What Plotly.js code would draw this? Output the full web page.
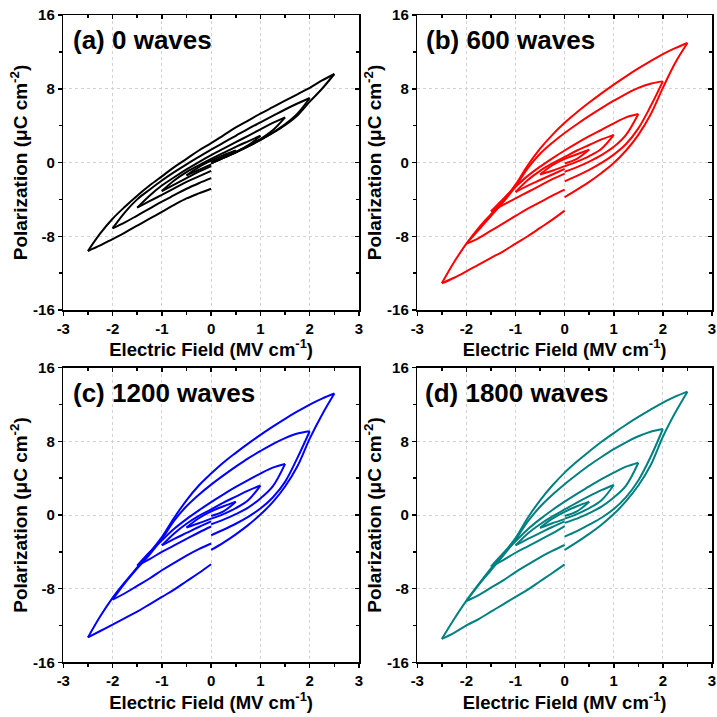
<!DOCTYPE html>
<html>
<head>
<meta charset="utf-8">
<script src="https://cdn.plot.ly/plotly-3.0.1.min.js"></script>
<style>
html, body { margin: 0; padding: 0; background: #ffffff; }
#chart { width: 717px; height: 717px; }
</style>
</head>
<body>
<div id="chart"></div>
<script>
// Triangular drive field for each amplitude (MV/cm): 0 -> +A -> -A -> 0
const E_05 = [0,0.25,0.5,0.25,0,-0.25,-0.5,-0.25,0];
const E_10 = [0,0.25,0.5,0.75,1,0.75,0.5,0.25,0,-0.25,-0.5,-0.75,-1,-0.75,-0.5,-0.25,0];
const E_15 = [0,0.25,0.5,0.75,1,1.25,1.5,1.25,1,0.75,0.5,0.25,0,-0.25,-0.5,-0.75,-1,-1.25,-1.5,-1.25,-1,-0.75,-0.5,-0.25,0];
const E_20 = [0,0.25,0.5,0.75,1,1.25,1.5,1.75,2,1.75,1.5,1.25,1,0.75,0.5,0.25,0,-0.25,-0.5,-0.75,-1,-1.25,-1.5,-1.75,-2,-1.75,-1.5,-1.25,-1,-0.75,-0.5,-0.25,0];
const E_25 = [0,0.25,0.5,0.75,1,1.25,1.5,1.75,2,2.25,2.5,2.25,2,1.75,1.5,1.25,1,0.75,0.5,0.25,0,-0.25,-0.5,-0.75,-1,-1.25,-1.5,-1.75,-2,-2.25,-2.5,-2.25,-2,-1.75,-1.5,-1.25,-1,-0.75,-0.5,-0.25,0];

// Polarization (uC/cm^2) along each drive path, (a) 0 waves
const P_a_05 = [0.0,0.6,1.3,0.8,0.2,-0.5,-1.4,-0.8,-0.2];
const P_a_10 = [0.0,0.55,1.15,1.85,2.9,2.3,1.7,1.05,0.4,-0.3,-1.05,-1.95,-3.1,-2.4,-1.7,-1.0,-0.4];
const P_a_15 = [-0.05,0.5,1.1,1.8,2.55,3.5,4.9,4.3,3.6,2.9,2.2,1.5,0.8,0.05,-0.75,-1.6,-2.5,-3.6,-4.9,-4.2,-3.5,-2.8,-2.1,-1.5,-0.9];
const P_a_20 = [-0.1,0.5,1.1,1.75,2.45,3.25,4.15,5.3,7.0,6.4,5.75,5.05,4.35,3.65,2.9,2.15,1.4,0.6,-0.2,-1.05,-1.95,-2.95,-4.0,-5.4,-7.15,-6.5,-5.75,-5.0,-4.25,-3.55,-2.85,-2.25,-1.7];
const P_a_25 = [-0.1,0.5,1.1,1.75,2.45,3.2,4.05,5.1,6.6,8.0,9.6,8.9,8.1,7.4,6.7,6.0,5.3,4.55,3.8,2.95,2.1,1.3,0.4,-0.5,-1.5,-2.5,-3.6,-4.8,-6.1,-7.7,-9.6,-9.0,-8.3,-7.6,-6.85,-6.1,-5.35,-4.6,-3.9,-3.35,-2.85];

// (b) 600 waves
const P_b_05 = [-0.1,0.4,1.4,0.9,0.4,-0.3,-1.3,-0.9,-0.4];
const P_b_10 = [-0.4,0.1,0.7,1.5,3.0,2.5,1.9,1.3,0.6,-0.1,-0.9,-1.9,-3.2,-2.5,-1.9,-1.3,-0.7];
const P_b_15 = [-1.0,-0.5,0.1,0.8,1.7,3.0,5.26,4.9,4.25,3.55,2.85,2.1,1.3,0.45,-0.45,-1.45,-2.65,-3.95,-5.3,-4.6,-3.9,-3.2,-2.5,-1.8,-1.2];
const P_b_20 = [-2.04,-1.45,-0.8,-0.05,0.85,2.0,3.7,6.1,8.8,8.55,8.1,7.45,6.7,5.9,5.05,4.15,3.2,2.15,0.95,-0.6,-2.6,-4.3,-5.8,-7.3,-8.8,-8.2,-7.4,-6.6,-5.8,-5.0,-4.3,-3.6,-2.95];
const P_b_25 = [-3.77,-2.95,-2.1,-1.13,-0.05,1.3,3.0,5.2,8.1,10.8,12.96,12.4,11.75,11.0,10.2,9.35,8.45,7.5,6.5,5.45,4.3,3.0,1.5,-0.3,-2.4,-4.1,-5.6,-7.1,-8.8,-10.8,-13.1,-12.5,-11.8,-11.07,-10.35,-9.63,-8.8,-8.0,-7.1,-6.2,-5.22];

// (c) 1200 waves
const P_c_05 = [-0.1,0.4,1.45,0.95,0.4,-0.35,-1.35,-0.9,-0.4];
const P_c_10 = [-0.4,0.1,0.75,1.6,3.2,2.65,2.0,1.35,0.6,-0.1,-0.95,-2.0,-3.3,-2.6,-1.95,-1.3,-0.7];
const P_c_15 = [-1.0,-0.5,0.1,0.8,1.8,3.1,5.55,5.15,4.5,3.8,3.05,2.25,1.4,0.5,-0.45,-1.5,-2.75,-4.05,-5.5,-4.8,-4.0,-3.3,-2.6,-1.9,-1.25];
const P_c_20 = [-2.2,-1.6,-0.95,-0.2,0.7,1.9,3.6,6.2,9.1,8.85,8.35,7.7,6.95,6.15,5.25,4.3,3.3,2.2,0.95,-0.6,-2.6,-4.3,-5.8,-7.4,-9.2,-8.5,-7.7,-6.9,-6.0,-5.2,-4.4,-3.7,-3.1];
const P_c_25 = [-3.8,-3.0,-2.1,-1.1,0.05,1.4,3.1,5.3,8.3,10.9,13.2,12.65,12.0,11.25,10.45,9.6,8.7,7.75,6.75,5.7,4.5,3.2,1.6,-0.3,-2.4,-4.1,-5.7,-7.3,-9.0,-11.0,-13.3,-12.6,-11.9,-11.2,-10.5,-9.7,-8.9,-8.1,-7.2,-6.3,-5.35];

// (d) 1800 waves
const P_d_05 = [-0.1,0.4,1.45,0.95,0.35,-0.4,-1.4,-0.9,-0.45];
const P_d_10 = [-0.4,0.1,0.75,1.6,3.26,2.7,2.05,1.35,0.6,-0.15,-1.0,-2.0,-3.3,-2.6,-1.95,-1.3,-0.7];
const P_d_15 = [-0.85,-0.4,0.2,0.9,1.9,3.2,5.68,5.25,4.6,3.9,3.1,2.3,1.45,0.55,-0.45,-1.55,-2.85,-4.15,-5.6,-4.9,-4.1,-3.4,-2.7,-2.0,-1.2];
const P_d_20 = [-2.35,-1.75,-1.05,-0.3,0.65,1.95,3.75,6.3,9.34,9.05,8.55,7.9,7.15,6.3,5.4,4.4,3.35,2.2,0.9,-0.7,-2.7,-4.4,-6.0,-7.6,-9.34,-8.7,-7.9,-7.1,-6.2,-5.4,-4.6,-3.9,-3.26];
const P_d_25 = [-3.8,-2.95,-2.05,-1.05,0.1,1.5,3.2,5.4,8.5,11.1,13.4,12.85,12.2,11.45,10.65,9.8,8.9,7.95,6.9,5.8,4.6,3.2,1.6,-0.3,-2.5,-4.2,-5.8,-7.5,-9.3,-11.3,-13.46,-12.8,-12.0,-11.3,-10.5,-9.7,-8.9,-8.1,-7.2,-6.3,-5.36];

const panelLabels = ['(a) 0 waves', '(b) 600 waves', '(c) 1200 waves', '(d) 1800 waves'];
const panelColors = ['#000000', '#ff0000', '#0000ff', '#008080'];
const xTickVals = [-3, -2, -1, 0, 1, 2, 3];
const xTickText = ['-3', '-2', '-1', '0', '1', '2', '3'];
const yTickVals = [-16, -8, 0, 8, 16];
const yTickText = ['-16', '-8', '0', '8', '16'];
const xTitle = 'Electric Field (MV cm<sup>-1</sup>)';
const yTitle = 'Polarization (\u03BCC cm<sup>-2</sup>)';

const drivePaths = [E_05, E_10, E_15, E_20, E_25];
const panelLoops = [
  [P_a_05, P_a_10, P_a_15, P_a_20, P_a_25],
  [P_b_05, P_b_10, P_b_15, P_b_20, P_b_25],
  [P_c_05, P_c_10, P_c_15, P_c_20, P_c_25],
  [P_d_05, P_d_10, P_d_15, P_d_20, P_d_25]
];

// subplot frames in pixels of the 717 x 717 canvas: [left, right, top, bottom]
const W = 717, H = 717;
const frames = [
  [63.3, 359, 15, 310],
  [417.3, 712, 15, 310],
  [63.3, 359, 367.7, 662.3],
  [417.3, 712, 367.7, 662.3]
];
const labelPos = [[71, 40], [424, 40], [71, 393], [423, 393]];

const FONT = 'Liberation Sans, Arial, Helvetica, sans-serif';

// split one loop into its three sweeps so each one is smoothed on its own
function sweeps(E, P) {
  const iMax = E.indexOf(Math.max(...E));
  const iMin = E.indexOf(Math.min(...E));
  return [[0, iMax], [iMax, iMin], [iMin, E.length - 1]].map(([a, b]) => ({
    x: E.slice(a, b + 1), y: P.slice(a, b + 1)
  }));
}

const traces = [];
const layout = {
  width: W, height: H,
  margin: {l: 0, r: 0, t: 0, b: 0},
  paper_bgcolor: '#ffffff', plot_bgcolor: '#ffffff',
  showlegend: false,
  font: {family: FONT, color: '#000000'},
  annotations: []
};

panelLoops.forEach((loops, p) => {
  const n = p + 1;
  const xs = n === 1 ? 'x' : 'x' + n;
  const ys = n === 1 ? 'y' : 'y' + n;
  const ox = 'x' + (n + 4), oy = 'y' + (n + 4);
  const [l, r, t, b] = frames[p];
  const xdom = [l / W, r / W];
  const ydom = [1 - b / H, 1 - t / H];

  loops.forEach((P, k) => {
    sweeps(drivePaths[k], P).forEach(s => {
      traces.push({
        type: 'scatter', mode: 'lines', x: s.x, y: s.y,
        xaxis: xs, yaxis: ys, hoverinfo: 'skip',
        line: {color: panelColors[p], width: 2, shape: 'spline', smoothing: 1}
      });
    });
  });
  // carrier for the mirrored top/right tick axes
  traces.push({type: 'scatter', mode: 'lines', x: [null], y: [null], xaxis: ox, yaxis: oy, hoverinfo: 'skip'});

  const tickFont = {family: FONT, size: 15, color: '#000000', weight: 700};
  const xTitleFont = {family: FONT, size: 18.5, color: '#000000', weight: 700};
  const yTitleFont = {family: FONT, size: 19, color: '#000000', weight: 700};

  layout['xaxis' + (n === 1 ? '' : n)] = {
    domain: xdom, anchor: ys, range: [-3, 3], fixedrange: true,
    tickmode: 'array', tickvals: xTickVals, ticktext: xTickText,
    ticks: 'outside', ticklen: 4, tickwidth: 1.5, tickcolor: '#000000',
    minor: {tickmode: 'linear', tick0: -3, dtick: 0.5, ticks: 'outside', ticklen: 3, tickwidth: 1.5, tickcolor: '#000000', showgrid: false},
    showline: true, linewidth: 1.5, linecolor: '#000000', mirror: true,
    showgrid: true, gridcolor: '#d2d2d2', griddash: 'dot', gridwidth: 1,
    zeroline: false, tickfont: tickFont,
    title: {text: xTitle, font: xTitleFont, standoff: 0}
  };
  layout['yaxis' + (n === 1 ? '' : n)] = {
    domain: ydom, anchor: xs, range: [-16, 16], fixedrange: true,
    tickmode: 'array', tickvals: yTickVals, ticktext: yTickText,
    ticks: 'outside', ticklen: 4, tickwidth: 1.5, tickcolor: '#000000',
    minor: {tickmode: 'linear', tick0: -16, dtick: 4, ticks: 'outside', ticklen: 3, tickwidth: 1.5, tickcolor: '#000000', showgrid: false},
    showline: true, linewidth: 1.5, linecolor: '#000000', mirror: true,
    showgrid: true, gridcolor: '#d2d2d2', griddash: 'dot', gridwidth: 1,
    zeroline: false, tickfont: tickFont,
    title: {text: yTitle, font: yTitleFont, standoff: 0}
  };
  layout['xaxis' + (n + 4)] = {
    overlaying: xs, side: 'top', anchor: oy, range: [-3, 3], fixedrange: true,
    tickmode: 'array', tickvals: xTickVals, showticklabels: false,
    ticks: 'inside', ticklen: 4, tickwidth: 1.5, tickcolor: '#000000',
    minor: {tickmode: 'linear', tick0: -3, dtick: 0.5, ticks: 'inside', ticklen: 3, tickwidth: 1.5, tickcolor: '#000000', showgrid: false},
    showline: false, showgrid: false, zeroline: false
  };
  layout['yaxis' + (n + 4)] = {
    overlaying: ys, side: 'right', anchor: ox, range: [-16, 16], fixedrange: true,
    tickmode: 'array', tickvals: yTickVals, showticklabels: false,
    ticks: 'inside', ticklen: 4, tickwidth: 1.5, tickcolor: '#000000',
    minor: {tickmode: 'linear', tick0: -16, dtick: 4, ticks: 'inside', ticklen: 3, tickwidth: 1.5, tickcolor: '#000000', showgrid: false},
    showline: false, showgrid: false, zeroline: false
  };

  layout.annotations.push({
    xref: 'paper', yref: 'paper',
    x: labelPos[p][0] / W, y: 1 - labelPos[p][1] / H,
    xanchor: 'left', yanchor: 'middle', showarrow: false,
    text: panelLabels[p],
    font: {family: FONT, size: 26, color: '#000000', weight: 700}
  });
});

Plotly.newPlot('chart', traces, layout, {staticPlot: true, displayModeBar: false});
</script>
</body>
</html>
